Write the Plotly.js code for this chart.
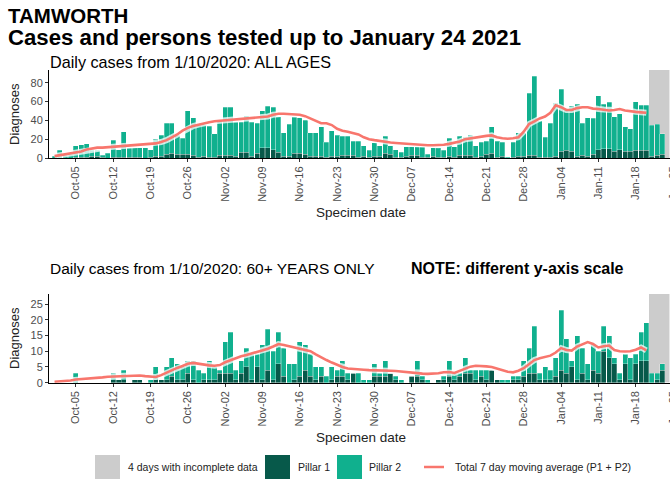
<!DOCTYPE html>
<html><head><meta charset="utf-8">
<script src="https://cdn.plot.ly/plotly-3.0.1.min.js"></script>
<style>html,body{margin:0;padding:0;overflow:hidden;background:#fff}#chart{width:680px;height:485px}</style>
</head><body><div id="chart"></div><script>
// ---------- data ----------
const startDate = '2020-10-01';
const allP1 = [0,0,0,0,1,1,1,2,2,1, 0,1,1,1,1,1,1,0,1,2, 2,4,5,4,4,4,3,1,2,1, 1,3,3,3,2,6,6,2,5,11,
  11,9,6,2,2,5,5,4,2,2, 2,1,2,2,3,3,3,1,2,1, 2,2,5,4,1,1,2,3,3,1, 1,2,1,1,2,1,3,3,3,1,
  2,4,5,1,2,0,1,2,2,3, 3,1,1,1,2,7,8,7,2,3, 2,4,9,10,10,7,9,7,7,8, 8,8,2,3,4,0];
const allP2 = [2,8,3,4,12,13,14,6,6,2, 5,18,8,27,10,10,10,11,8,18, 22,33,32,20,17,46,40,34,33,33, 25,37,51,51,36,32,39,36,32,39,
  44,45,38,25,34,39,38,36,25,25, 31,16,27,22,20,20,15,17,11,7, 14,11,18,9,8,5,10,9,9,11, 3,9,10,7,19,11,20,19,21,12,
  15,14,28,17,15,1,16,25,25,66, 84,38,21,36,56,66,44,48,55,34, 41,38,57,47,49,37,38,26,24,52, 48,48,33,33,22,0];
const allAvg = [2,3,4,5,6,7,9,10,11,11, 11.5,12,12,12.5,13,13.5,14,14.5,15,15.5, 17,19,22,25,29,32,34,35.5,37,38,
  39,39.5,40,40.5,41,41.5,42,42,42.5,43, 44,46,47,47,46.5,46.5,46,44.5,42,39, 37,37,35,31,29,28,26.5,25,22,20,
  19,18,17,16.5,16,15.5,15,14.5,14,13.5, 13.5,13.5,13.5,14,15,16,17.5,20,21,22, 23,23.5,24,22,21,20.5,21,22,28,36,
  39,42,44,48,56,54,51,51,53,54, 54,52.5,52,51.5,50.5,51,52,50.5,49.5,49,48.5,48];
const oldP1 = [0,0,0,0,0,0,0,0,0,0, 0,1,1,1,0,1,1,0,0,1, 1,1,2,1,1,3,1,0,1,1, 1,3,3,3,1,3,5,1,5,1,
  4,1,6,2,0,1,2,4,2,1, 2,0,1,2,2,1,3,0,0,0, 2,2,2,3,1,0,0,2,2,1, 0,0,1,1,2,1,2,3,3,1,
  2,1,4,1,0,0,1,1,2,3, 3,1,1,1,2,4,3,5,1,3, 1,4,3,10,8,6,1,6,1,6, 7,7,0,1,4,0];
const oldP2 = [0,0,0,0,3,0,0,0,0,0, 0,2,0,3,0,0,0,0,1,4, 0,4,6,5,4,4,6,4,2,6, 4,1,10,13,3,4,6,8,4,11,
  13,9,10,9,6,5,11,8,7,4, 3,2,4,2,5,2,0,3,1,1, 4,1,5,0,1,1,0,0,5,1, 1,0,0,1,5,2,1,5,1,3,
  2,3,0,0,1,1,1,1,5,8, 15,2,4,3,6,19,11,2,14,8, 5,8,7,8,7,2,2,3,7,3, 9,12,3,2,2,0];
const oldAvg = [0.3,0.4,0.5,0.7,1,1.1,1.2,1.4,1.5,1.7, 1.9,2,2.1,2.2,2.2,2.3,2.3,2.1,1.9,1.8,
  2.4,3.2,4,4.7,5.3,6,6.3,6,5.7,5.5, 5.4,5.6,6.5,7.2,7.8,8.4,8.8,9.3,9.8,10.2,
  10.8,11.5,12.3,12,11.6,11.2,11,10.5,10,9, 8,7.2,6.4,5.6,5,4.5,4.3,4.1,4.1,4,
  4,4,3.9,3.8,3.7,3.5,3.4,3.3,3.1,2.9, 2.8,2.8,3,3.3,3.4,3.1,3.8,4.6,5.1,5.4,
  5.4,5.2,5,4.5,3.8,3.5,3.3,3.8,4.6,6, 7.2,7.8,8.3,8.6,9.6,11,10.4,10.2,11.5,12.3,
  12.9,12.3,11.2,11.6,11.8,10.4,10,9.9,10,10.5,11.2,10.3];
const tickDates = ['2020-10-05','2020-10-12','2020-10-19','2020-10-26','2020-11-02','2020-11-09','2020-11-16','2020-11-23',
  '2020-11-30','2020-12-07','2020-12-14','2020-12-21','2020-12-28','2021-01-04','2021-01-11','2021-01-18','2021-01-25'];
const tickLabels = ['Oct-05','Oct-12','Oct-19','Oct-26','Nov-02','Nov-09','Nov-16','Nov-23',
  'Nov-30','Dec-07','Dec-14','Dec-21','Dec-28','Jan-04','Jan-11','Jan-18','Jan-25'];
const incompleteFrom = '2021-01-20 12:00';
const incompleteTo = '2021-01-24 08:00';
const legendLabels = ['4 days with incomplete data','Pillar 1','Pillar 2','Total 7 day moving average (P1 + P2)'];

// ---------- helpers ----------
function dayList(n){
  const out=[]; const d0=new Date(startDate+'T00:00:00Z');
  for(let i=0;i<n;i++){ out.push(new Date(d0.getTime()+i*86400000).toISOString().slice(0,10)); }
  return out;
}
const days = dayList(allP1.length);
const avgDays = days.slice(0, allAvg.length);

const C_P1 = '#07594a', C_P2 = '#10b08e', C_AVG = '#f8766d', C_GREY = '#cccccc';
const W = 680, H = 485, PL = 49, PR = 7, PW = W - PL - PR;
const px = x => (x - PL) / PW;
const py = y => 1 - y / H;
const FONT = 'Liberation Sans, Arial, sans-serif';

function barTrace(y, color, xa, ya, name){
  return {type:'bar', x:days, y:y, name:name, xaxis:xa, yaxis:ya, marker:{color:color, line:{color:'rgba(255,255,255,0.55)', width:0.5}}, showlegend:false, hoverinfo:'skip'};
}
function lineTraces(y, xa, ya){
  return [
    {type:'scatter', mode:'lines', x:avgDays, y:y, xaxis:xa, yaxis:ya, line:{color:'rgba(255,255,255,0.75)', width:6}, showlegend:false, hoverinfo:'skip'},
    {type:'scatter', mode:'lines', x:avgDays, y:y, xaxis:xa, yaxis:ya, line:{color:C_AVG, width:2.6}, showlegend:false, hoverinfo:'skip'}
  ];
}

const data = [
  barTrace(allP1, C_P1, 'x', 'y', 'Pillar 1'),
  barTrace(allP2, C_P2, 'x', 'y', 'Pillar 2'),
  ...lineTraces(allAvg, 'x', 'y'),
  barTrace(oldP1, C_P1, 'x2', 'y2', 'Pillar 1'),
  barTrace(oldP2, C_P2, 'x2', 'y2', 'Pillar 2'),
  ...lineTraces(oldAvg, 'x2', 'y2')
];

const xRange = ['2020-09-29 23:00', '2021-01-25 00:00'];
function xAxis(anchor){
  return {type:'date', anchor:anchor, domain:[0,1], range:xRange, tickvals:tickDates, ticktext:tickLabels, tickangle:-90,
    ticks:'outside', ticklen:3, tickcolor:'#333', showline:true, linecolor:'#000', linewidth:1, showgrid:false, zeroline:false,
    tickfont:{family:FONT, size:11, color:'#4d4d4d'}, fixedrange:true};
}
function yAxis(anchor, dom, top, vals){
  return {anchor:anchor, domain:dom, range:[0, top], tickvals:vals, ticks:'outside', ticklen:3, tickcolor:'#333',
    showline:true, linecolor:'#000', linewidth:1, showgrid:false, zeroline:false,
    tickfont:{family:FONT, size:11, color:'#4d4d4d'}, fixedrange:true};
}

const shapes = [
  {type:'rect', xref:'x', yref:'y domain', x0:incompleteFrom, x1:incompleteTo, y0:0, y1:1, fillcolor:C_GREY, line:{width:0}, layer:'below'},
  {type:'rect', xref:'x2', yref:'y2 domain', x0:incompleteFrom, x1:incompleteTo, y0:0, y1:1, fillcolor:C_GREY, line:{width:0}, layer:'below'},
  // legend keys
  {type:'rect', xref:'paper', yref:'paper', x0:px(95), x1:px(120), y0:py(479), y1:py(455), fillcolor:C_GREY, line:{width:0}},
  {type:'rect', xref:'paper', yref:'paper', x0:px(265), x1:px(290), y0:py(479), y1:py(455), fillcolor:C_P1, line:{width:0}},
  {type:'rect', xref:'paper', yref:'paper', x0:px(337), x1:px(362), y0:py(479), y1:py(455), fillcolor:C_P2, line:{width:0}},
  {type:'line', xref:'paper', yref:'paper', x0:px(424), x1:px(444), y0:py(467), y1:py(467), line:{color:C_AVG, width:2.5}}
];

function ann(text, x, y, size, opts){
  return Object.assign({text:text, xref:'paper', yref:'paper', x:px(x), y:py(y), xanchor:'left', yanchor:'middle', showarrow:false,
    font:{family:FONT, size:size, color:'#000'}}, opts||{});
}
const annotations = [
  ann('<b>TAMWORTH</b>', 7, 16, 20.5, {borderpad:0}),
  ann('<b>Cases and persons tested up to January 24 2021</b>', 7, 38, 22.2, {borderpad:0}),
  ann('Daily cases from 1/10/2020: ALL AGES', 48, 62, 16.2),
  ann('Daily cases from 1/10/2020: 60+ YEARS ONLY', 48, 268, 15.5),
  ann('<b>NOTE: different y-axis scale</b>', 409, 268, 16),
  ann('Diagnoses', 14, 114, 13, {xanchor:'center', textangle:-90, font:{family:FONT, size:13, color:'#222'}}),
  ann('Diagnoses', 14, 338, 13, {xanchor:'center', textangle:-90, font:{family:FONT, size:13, color:'#222'}}),
  ann('Specimen date', 361, 212, 13.5, {xanchor:'center', font:{family:FONT, size:13.5, color:'#222'}}),
  ann('Specimen date', 361, 437, 13.5, {xanchor:'center', font:{family:FONT, size:13.5, color:'#222'}}),
  ann(legendLabels[0], 126, 467, 10.5, {font:{family:FONT, size:10.5, color:'#222'}}),
  ann(legendLabels[1], 296, 467, 10.5, {font:{family:FONT, size:10.5, color:'#222'}}),
  ann(legendLabels[2], 367, 467, 10.5, {font:{family:FONT, size:10.5, color:'#222'}}),
  ann(legendLabels[3], 453, 467, 10.5, {font:{family:FONT, size:10.5, color:'#222'}})
];

const layout = {
  width:W, height:H, margin:{l:PL, r:PR, t:0, b:0}, paper_bgcolor:'#fff', plot_bgcolor:'#fff',
  barmode:'stack', bargap:0.06, showlegend:false,
  xaxis: xAxis('y'), xaxis2: xAxis('y2'),
  yaxis: yAxis('x', [py(158), py(70)], 93.5, [0,20,40,60,80]),
  yaxis2: yAxis('x2', [py(382.7), py(294)], 28.2, [0,5,10,15,20,25]),
  shapes:shapes, annotations:annotations
};
Plotly.newPlot('chart', data, layout, {staticPlot:true, displayModeBar:false});
</script></body></html>
